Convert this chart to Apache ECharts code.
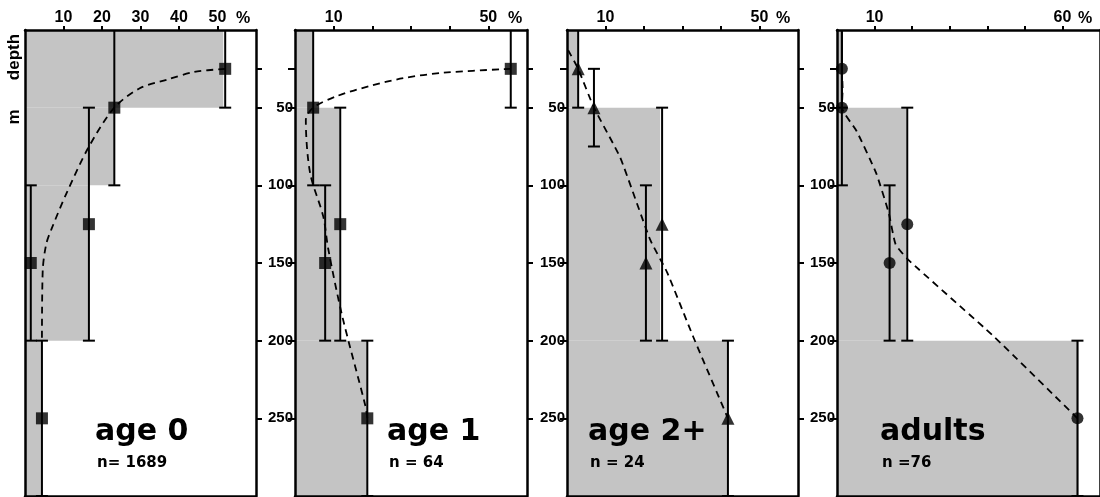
<!DOCTYPE html>
<html>
<head>
<meta charset="utf-8">
<script src="https://cdn.jsdelivr.net/npm/echarts@6/dist/echarts.min.js"></script>
<style>
  html, body { margin: 0; padding: 0; background: #fff; }
  #chart { width: 1100px; height: 497px; }
</style>
</head>
<body>
<div id="chart"></div>
<script>
// depth axis (m)
const depthTickValues = [25, 50, 100, 150, 200, 250]
const depthLabelValues = [50, 100, 150, 200, 250]

const panelNames = ['age 0', 'age 1', 'age 2+', 'adults']
const panelCounts = ['n= 1689', 'n = 64', 'n = 24', 'n =76']
const pctLabels = [[10, 20, 30, 40, 50], [10, 50], [10, 50], [10, 60]]
const pctTicks = [10, 20, 30, 40, 50, 60]
const symbols = ['rect', 'rect', 'triangle', 'circle']

// shaded histogram: [percent, from depth, to depth]
const bins0 = [[51.5, 0, 50], [23.2, 50, 100], [16.6, 100, 200], [4.4, 200, 300]]
const bins1 = [[4.7, 0, 50], [11.4, 50, 200], [18.7, 200, 300]]
const bins2 = [[3.0, 0, 50], [24.2, 50, 200], [41.6, 200, 300]]
const bins3 = [[1.3, 0, 50], [18.4, 50, 200], [64.4, 200, 300]]

// points: [percent, depth]
const points0 = [[52, 25], [23.2, 50], [16.6, 125], [1.5, 150], [4.4, 250]]
const points1 = [[55.8, 25], [4.7, 50], [11.7, 125], [7.8, 150], [18.7, 250]]
const points2 = [[2.9, 25], [7, 50], [24.7, 125], [20.5, 150], [41.8, 250]]
const points3 = [[1.3, 25], [1.3, 50], [18.7, 125], [14, 150], [64, 250]]

// depth range bars: [percent, from depth, to depth]
const ranges0 = [[52, 0, 50], [23.2, 0, 100], [16.6, 50, 200], [1.5, 100, 200], [4.4, 200, 300]]
const ranges1 = [[55.8, 0, 50], [4.7, 0, 100], [11.7, 50, 200], [7.8, 100, 200], [18.7, 200, 300]]
const ranges2 = [[2.9, 0, 50], [7, 25, 75], [24.7, 50, 200], [20.5, 100, 200], [41.8, 200, 300]]
const ranges3 = [[1.3, 0, 50], [1.3, 0, 100], [18.7, 50, 200], [14, 100, 200], [64, 200, 300]]

// dashed fitted curves: [percent, depth]
const curve0 = [[52, 25], [44, 27], [36.8, 32], [29.8, 37.5], [23.2, 50], [16.4, 76], [10.8, 105], [6.9, 128], [5.5, 138], [4.6, 155], [4.4, 200]]
const curve1 = [[55.8, 25], [38.4, 27.5], [28, 31], [19.5, 36], [10.9, 42.5], [4.7, 50], [2.8, 58], [3.9, 92], [7.3, 120], [8.6, 141], [12.2, 184], [18.2, 242], [18.7, 250]]
const curve2 = [[0.3, 13], [2.9, 25], [7, 50], [13.8, 82], [21.6, 135], [26, 156], [32.7, 197], [41.8, 250]]
const curve3 = [[1.3, 25], [1.5, 38], [1.3, 50], [5.2, 65], [10.4, 92], [13.8, 118], [15.6, 138], [19, 148], [41.6, 197], [64, 250]]

const allBins = [bins0, bins1, bins2, bins3]
const allPoints = [points0, points1, points2, points3]
const allRanges = [ranges0, ranges1, ranges2, ranges3]
const allCurves = [curve0, curve1, curve2, curve3]

// layout
const panelLeft = [25, 295, 567, 837]
const panelWidth = [231, 232, 231, 270]
const xMax = [60, 60, 60, 70]
const pctGap = [-13, -12, -15, -15]
const gridTop = 30
const gridHeight = 466
const FONT = 'Liberation Sans, Arial, sans-serif'
const TITLE_FONT = 'DejaVu Sans, sans-serif'

let chart = echarts.init(document.getElementById('chart'))

let grids = []
let xAxes = []
let yAxes = []
let series = []
let graphics = []

const lineStyle = { color: '#000', width: 2.5 }

for (let i = 0; i < 4; i++) {
  grids.push({ left: panelLeft[i], top: gridTop, width: panelWidth[i], height: gridHeight })
  // top axis with percent labels
  xAxes.push({
    gridIndex: i,
    type: 'value',
    position: 'top',
    min: 0,
    max: xMax[i],
    interval: 10,
    z: 5,
    name: '%',
    nameLocation: 'end',
    nameGap: pctGap[i],
    nameTextStyle: { fontFamily: FONT, fontWeight: 'bold', fontSize: 16, color: '#000', align: 'center', verticalAlign: 'bottom', padding: [0, 0, 3, 0] },
    axisLine: { show: true, onZero: false, lineStyle: lineStyle },
    axisTick: { show: true, inside: false, length: 4, lineStyle: { color: '#000', width: 2 }, customValues: pctTicks.filter(v => v < xMax[i] && v > 0 && (i === 3 || v < 60)) },
    axisLabel: {
      show: true,
      margin: 4,
      color: '#000',
      fontFamily: FONT,
      fontWeight: 'bold',
      fontSize: 16,
      customValues: pctLabels[i]
    },
    splitLine: { show: false }
  })
  // bottom border
  xAxes.push({
    gridIndex: i,
    type: 'value',
    position: 'bottom',
    min: 0,
    max: xMax[i],
    z: 5,
    axisLine: { show: true, onZero: false, lineStyle: lineStyle },
    axisTick: { show: false },
    axisLabel: { show: false },
    splitLine: { show: false }
  })
  // left depth axis
  yAxes.push({
    gridIndex: i,
    type: 'value',
    position: 'left',
    inverse: true,
    min: 0,
    max: 300,
    z: 5,
    axisLine: { show: true, onZero: false, lineStyle: lineStyle },
    axisTick: { show: i > 0, length: 7, lineStyle: { color: '#000', width: 2 }, customValues: depthTickValues },
    axisLabel: {
      show: i > 0,
      margin: 2,
      color: '#000',
      fontFamily: FONT,
      fontWeight: 'bold',
      fontSize: 15,
      customValues: depthLabelValues
    },
    splitLine: { show: false }
  })
  // right border with outward ticks
  yAxes.push({
    gridIndex: i,
    type: 'value',
    position: 'right',
    inverse: true,
    min: 0,
    max: 300,
    z: 5,
    axisLine: { show: true, onZero: false, lineStyle: lineStyle },
    axisTick: { show: true, length: 6, lineStyle: { color: '#000', width: 2 }, customValues: depthTickValues },
    axisLabel: { show: false },
    splitLine: { show: false }
  })

  // shaded histogram
  series.push({
    type: 'custom',
    xAxisIndex: 2 * i,
    yAxisIndex: 2 * i,
    clip: true,
    z: 1,
    encode: { x: 0, y: [1, 2] },
    data: allBins[i],
    renderItem: function (params, api) {
      let p0 = api.coord([0, api.value(1)])
      let p1 = api.coord([api.value(0), api.value(2)])
      return {
        type: 'rect',
        shape: { x: p0[0], y: p0[1], width: p1[0] - p0[0], height: p1[1] - p0[1] },
        style: { fill: '#c4c4c4' }
      }
    }
  })
  // depth range bars
  series.push({
    type: 'custom',
    xAxisIndex: 2 * i,
    yAxisIndex: 2 * i,
    clip: true,
    z: 3,
    encode: { x: 0, y: [1, 2] },
    data: allRanges[i],
    renderItem: function (params, api) {
      let a = api.coord([api.value(0), api.value(1)])
      let b = api.coord([api.value(0), api.value(2)])
      let cap = 6
      let st = { stroke: '#000', lineWidth: 2 }
      return {
        type: 'group',
        children: [
          { type: 'line', shape: { x1: a[0], y1: a[1], x2: b[0], y2: b[1] }, style: st },
          { type: 'line', shape: { x1: a[0] - cap, y1: a[1], x2: a[0] + cap, y2: a[1] }, style: st },
          { type: 'line', shape: { x1: b[0] - cap, y1: b[1], x2: b[0] + cap, y2: b[1] }, style: st }
        ]
      }
    }
  })
  // dashed curve
  series.push({
    type: 'line',
    xAxisIndex: 2 * i,
    yAxisIndex: 2 * i,
    z: 3,
    data: allCurves[i],
    smooth: i < 2 ? 0.3 : 0.15,
    symbol: 'none',
    silent: true,
    lineStyle: { color: '#000', width: 1.8, type: [7, 5] }
  })
  // markers
  series.push({
    type: 'scatter',
    xAxisIndex: 2 * i,
    yAxisIndex: 2 * i,
    z: 4,
    data: allPoints[i],
    symbol: symbols[i],
    symbolSize: i === 2 ? 13 : 12,
    itemStyle: { color: '#000' }
  })

  // panel title and sample size
  let tx = [95, 387, 588, 880][i]
  graphics.push({
    type: 'text',
    left: tx,
    top: 417,
    z: 10,
    style: { text: panelNames[i], font: 'bold 30px ' + TITLE_FONT, fill: '#000' }
  })
  graphics.push({
    type: 'text',
    left: tx + 2,
    top: 456,
    z: 10,
    style: { text: panelCounts[i], font: 'bold 15px ' + TITLE_FONT, fill: '#000' }
  })
}

// vertical axis title
graphics.push({
  type: 'text',
  x: 14,
  y: 57,
  rotation: Math.PI / 2,
  z: 10,
  style: { text: 'depth', font: 'bold 17px ' + FONT, fill: '#000', align: 'center', verticalAlign: 'middle' }
})
graphics.push({
  type: 'text',
  x: 14,
  y: 117,
  rotation: Math.PI / 2,
  z: 10,
  style: { text: 'm', font: 'bold 17px ' + FONT, fill: '#000', align: 'center', verticalAlign: 'middle' }
})

chart.setOption({
  animation: false,
  backgroundColor: '#fff',
  grid: grids,
  xAxis: xAxes,
  yAxis: yAxes,
  series: series,
  graphic: graphics
})
</script>
</body>
</html>
